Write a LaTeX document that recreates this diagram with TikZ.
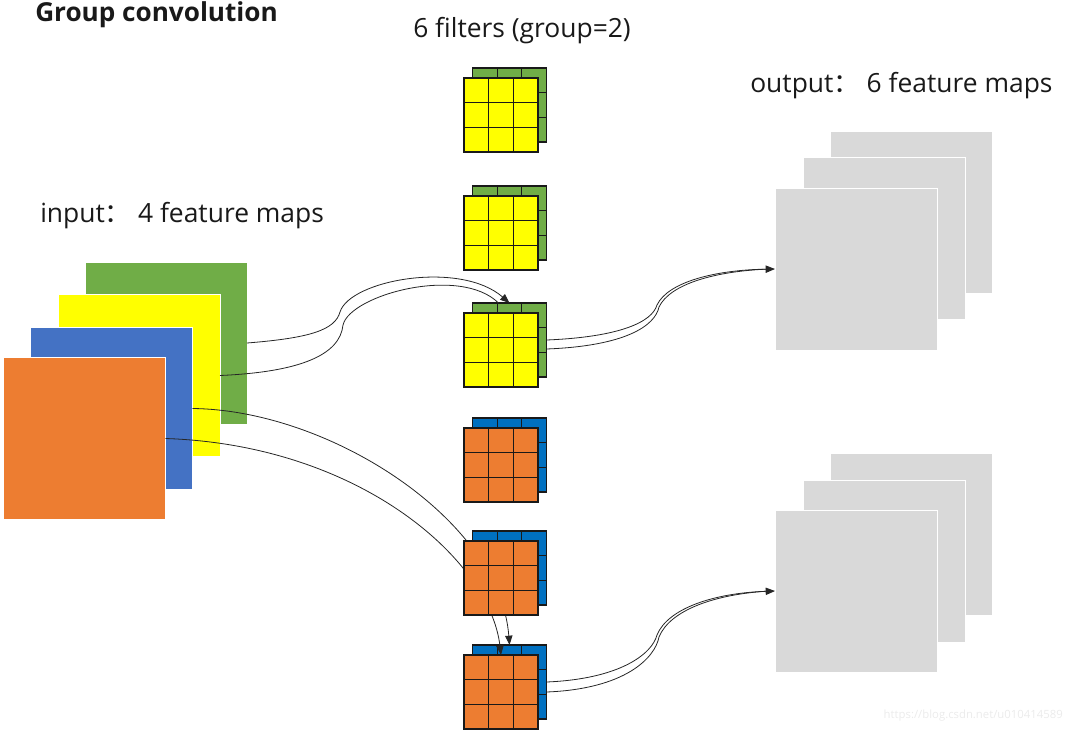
\documentclass[tikz,border=0pt]{standalone}
\usepackage{fontspec}
\setmainfont{Open Sans}
\newfontfamily\cjk{Noto Sans CJK SC}
\usetikzlibrary{calc,arrows.meta}

\definecolor{mapgreen}{HTML}{70AD47}
\definecolor{mapyellow}{HTML}{FFFF00}
\definecolor{mapblue}{HTML}{4472C4}
\definecolor{maporange}{HTML}{ED7D31}
\definecolor{filtblue}{HTML}{0070C0}
\definecolor{outgray}{HTML}{D9D9D9}

% 3x3 grid lines inside a filter node
\newcommand\filtgrid[1]{%
  \foreach \t in {0.3333,0.6667}{
    \draw[grid line] ($(#1.north west)!\t!(#1.north east)$) -- ($(#1.south west)!\t!(#1.south east)$);
    \draw[grid line] ($(#1.north west)!\t!(#1.south west)$) -- ($(#1.north east)!\t!(#1.south east)$);
  }}
% one filter: back slice + front slice
\newcommand\filter[4]{%
  \node[filt node, fill=#3] (fb#1) at (509.5,#2-10) {};
  \filtgrid{fb#1}
  \node[filt node, fill=#4] (f#1) at (501,#2) {};
  \filtgrid{f#1}}

\begin{document}
\begin{tikzpicture}[
    x=0.75pt, y=-0.75pt,
    map node/.style={rectangle, draw=white, line width=0.75pt, inner sep=0pt, outer sep=0pt, minimum size=121.5pt},
    out node/.style={map node, fill=outgray},
    filt node/.style={rectangle, draw=black!90, line width=1.1pt, inner sep=0pt, outer sep=0pt, minimum size=55.5pt},
    grid line/.style={black!90, line width=0.8pt},
    link edge/.style={black!85, line width=0.6pt},
    link arrow/.style={link edge, -{Triangle[length=7pt,width=5.5pt]}},
    label text/.style={font=\fontsize{19.8}{24}\selectfont, text=black!90, inner sep=0pt},
    title text/.style={font=\fontsize{19.6}{23}\selectfont\bfseries, text=black!90, inner sep=0pt}
]
\useasboundingbox (0,0) rectangle (1070,735);

% input: 4 feature maps
\node[map node, fill=mapgreen]  (inG) at (166,343)   {};
\node[map node, fill=mapyellow] (inY) at (139,375.5) {};
\node[map node, fill=mapblue]   (inB) at (111.5,408.5) {};
\node[map node, fill=maporange] (inO) at (84.5,438.5) {};

% output: 6 feature maps (2 stacks of 3)
\node[out node] (ot3) at (911,212) {};
\node[out node] (ot2) at (884,238.5) {};
\node[out node] (ot1) at (856,269) {};
\node[out node] (ob3) at (911,534) {};
\node[out node] (ob2) at (884,561) {};
\node[out node] (ob1) at (856,591) {};

% filters (5 comes later, it hides the links)
\filter{1}{115}{mapgreen}{mapyellow}
\filter{2}{233}{mapgreen}{mapyellow}
\filter{3}{350}{mapgreen}{mapyellow}
\filter{4}{465}{filtblue}{maporange}
\filter{6}{692}{filtblue}{maporange}

% group 1: green + yellow -> filter 3
\draw[link arrow] (inG.east) .. controls (310,338) and (335,330) .. (340,312)
  .. controls (350,280) and (460,260) .. (fb3.north);
\draw[link edge] (inY.east) .. controls (300,372) and (340,355) .. (343,325)
  .. controls (350,295) and (460,265) .. ($(fb3.north)+(-11,0)$);

% group 2: blue + orange -> through filter 5 -> filter 6
\draw[link arrow] (inB.east) .. controls (330,410) and (500,520) .. (fb6.north);
\draw[link arrow] (inO.east) .. controls (360,445) and (490,560) .. (f6.north);

\filter{5}{578}{filtblue}{maporange}

% filters -> output maps
\draw[link arrow] (fb3.east) .. controls (620,337) and (652,322) .. (657,305)
  .. controls (668,282) and (715,270) .. (ot1.west);
\draw[link edge] ($(fb3.east)+(0,9)$) .. controls (625,346) and (655,326) .. (659,307)
  .. controls (670,284) and (715,271) .. ($(ot1.west)+(-5,0)$);
\draw[link arrow] (fb6.east) .. controls (620,679) and (652,654) .. (657,635)
  .. controls (668,608) and (715,593) .. (ob1.west);
\draw[link edge] ($(fb6.east)+(0,10)$) .. controls (625,689) and (655,658) .. (659,637)
  .. controls (670,610) and (715,594) .. ($(ob1.west)+(-5,0)$);

% texts
\node[title text, anchor=base west] (title) at (35,22) {Group convolution};
\node[label text, anchor=base west] (ftxt) at (413,38) {6 filters (group=2)};
\node[label text, anchor=base west] (otxt) at (750,93) {output{\cjk ：} 6 feature maps};
\node[label text, anchor=base west] (itxt) at (40,222) {input{\cjk ：} 4 feature maps};
\node[font=\fontsize{8.5}{10}\selectfont, text=black!8, inner sep=0pt, anchor=base east] (wm) at (1063,718) {https://blog.csdn.net/u010414589};

\end{tikzpicture}
\end{document}
